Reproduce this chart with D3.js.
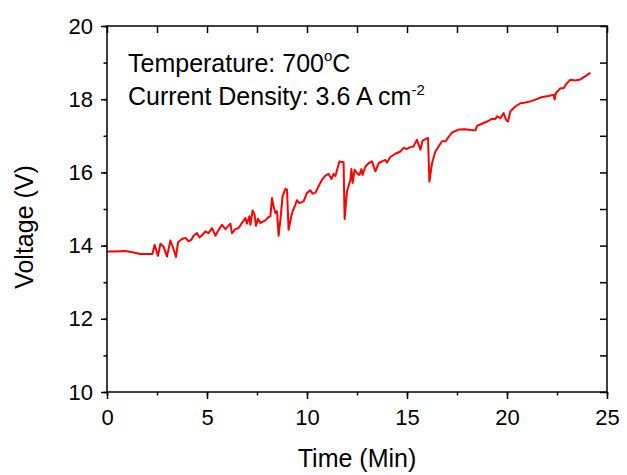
<!DOCTYPE html>
<html>
<head>
<meta charset="utf-8">
<script src="https://cdn.jsdelivr.net/npm/d3@7.9.0/dist/d3.min.js"></script>
<style>
  body { margin: 0; background: #fff; }
  svg { font-family: "Liberation Sans", Arial, sans-serif; }
</style>
</head>
<body>
<svg width="627" height="475"></svg>
<script>
// time (min)
const timeMin = [
  0.0, 0.4, 0.9, 1.27, 1.67, 2.27, 2.38, 2.55, 2.67, 2.83, 3.0, 3.17, 3.33, 3.45, 3.55, 3.75,
  3.92, 4.08, 4.22, 4.33, 4.5, 4.62, 4.75, 4.92, 5.08, 5.25, 5.42, 5.58, 5.75, 5.92, 6.17, 6.25,
  6.42, 6.58, 6.75, 6.92, 7.0, 7.12, 7.17, 7.28, 7.38, 7.45, 7.55, 7.67, 7.92, 8.08, 8.17, 8.25,
  8.33, 8.42, 8.5, 8.58, 8.67, 8.78, 8.92, 9.0, 9.08, 9.25, 9.42, 9.5, 9.62, 9.83, 10.0, 10.17,
  10.28, 10.42, 10.58, 10.75, 10.92, 11.08, 11.22, 11.33, 11.42, 11.52, 11.62, 11.83, 11.88, 12.0,
  12.17, 12.22, 12.28, 12.38, 12.5, 12.62, 12.72, 12.78, 12.92, 13.08, 13.25, 13.42, 13.58, 13.75,
  13.92, 14.0, 14.17, 14.42, 14.67, 14.83, 15.0, 15.17, 15.33, 15.5, 15.67, 15.78, 15.92, 16.05,
  16.12, 16.25, 16.42, 16.58, 16.75, 16.92, 17.08, 17.25, 17.58, 17.92, 18.17, 18.42, 18.5, 18.75,
  19.0, 19.25, 19.42, 19.5, 19.67, 19.83, 19.95, 20.05, 20.17, 20.42, 20.67, 20.92, 21.17, 21.42,
  21.75, 22.08, 22.33, 22.38, 22.45, 22.67, 22.83, 23.0, 23.17, 23.42, 23.67, 23.92, 24.17
];
// voltage (V)
const voltage = [
  13.84, 13.84, 13.85, 13.82, 13.77, 13.77, 14.02, 13.72, 14.05, 13.97, 13.70, 14.14, 13.90, 13.69, 14.09, 14.18,
  14.21, 14.12, 14.16, 14.27, 14.34, 14.22, 14.28, 14.39, 14.34, 14.48, 14.27, 14.43, 14.57, 14.45, 14.60, 14.34,
  14.45, 14.48, 14.62, 14.75, 14.60, 14.80, 14.57, 14.96, 14.84, 14.54, 14.73, 14.62, 14.69, 14.78, 14.80, 15.30,
  15.07, 14.89, 14.94, 14.27, 14.71, 15.35, 15.55, 15.53, 14.43, 14.89, 15.12, 15.24, 15.16, 15.21, 15.44, 15.51,
  15.42, 15.44, 15.62, 15.80, 15.91, 15.96, 15.82, 15.96, 15.90, 16.10, 16.30, 16.28, 14.73, 15.48,
  15.80, 16.09, 15.71, 16.07, 15.98, 15.93, 16.09, 15.93, 16.16, 16.25, 16.30, 16.03, 16.25, 16.30,
  16.34, 16.27, 16.42, 16.51, 16.57, 16.67, 16.64, 16.69, 16.71, 16.89, 16.62, 16.87, 16.91, 16.94,
  15.75, 16.25, 16.57, 16.71, 16.85, 16.85, 16.97, 17.09, 17.17, 17.18, 17.16, 17.15, 17.27, 17.33,
  17.39, 17.46, 17.46, 17.53, 17.48, 17.62, 17.44, 17.39, 17.67, 17.80, 17.89, 17.91, 17.94, 17.99,
  18.06, 18.09, 18.12, 17.99, 18.17, 18.30, 18.30, 18.44, 18.53, 18.51, 18.54, 18.63, 18.72
];
const xTicks = [0, 5, 10, 15, 20, 25];
const yTicks = [10, 12, 14, 16, 18, 20];
const xMinor = d3.range(0, 25.01, 2.5);
const yMinor = d3.range(10, 20.01, 1);

const margin = { top: 26, left: 107 };
const width = 500, height = 366;

const svg = d3.select('svg');
const g = svg.append('g').attr('transform', `translate(${margin.left},${margin.top})`);

const x = d3.scaleLinear().domain([0, 25]).range([0, width]);
const y = d3.scaleLinear().domain([10, 20]).range([height, 0]);

const data = timeMin.map((t, i) => ({ t, v: voltage[i] }));

const line = d3.line().x(d => x(d.t)).y(d => y(d.v));
g.append('path')
  .datum(data)
  .attr('fill', 'none')
  .attr('stroke', '#ff0000')
  .attr('stroke-width', 2)
  .attr('stroke-linejoin', 'round')
  .attr('d', line);

function styleAxis(sel) {
  sel.select('.domain').remove();
  sel.selectAll('line').attr('stroke', '#000').attr('stroke-width', 1.5);
  sel.selectAll('text').attr('fill', '#000').style('font-size', '22px');
}

// minor ticks first, then major
g.append('g').attr('transform', `translate(0,${height})`)
  .call(d3.axisBottom(x).tickValues(xMinor).tickSize(3.5).tickFormat(''))
  .call(styleAxis);
g.append('g').attr('transform', `translate(0,${height})`)
  .call(d3.axisBottom(x).tickValues(xTicks).tickSize(7).tickPadding(10).tickFormat(d3.format('d')))
  .call(styleAxis);

g.append('g')
  .call(d3.axisLeft(y).tickValues(yMinor).tickSize(3.5).tickFormat(''))
  .call(styleAxis);
g.append('g')
  .call(d3.axisLeft(y).tickValues(yTicks).tickSize(6).tickPadding(8).tickFormat(d3.format('d')))
  .call(styleAxis);

// top and right: ticks pointing inward
g.append('g')
  .call(d3.axisTop(x).tickValues(xMinor).tickSize(-7).tickFormat(''))
  .call(styleAxis);
g.append('g').attr('transform', `translate(${width},0)`)
  .call(d3.axisRight(y).tickValues(yMinor).tickSize(-7).tickFormat(''))
  .call(styleAxis);

// frame
g.append('rect')
  .attr('width', width).attr('height', height)
  .attr('fill', 'none').attr('stroke', '#000').attr('stroke-width', 1.5);

svg.append('text')
  .attr('x', margin.left + width / 2).attr('y', 467)
  .attr('text-anchor', 'middle').style('font-size', '25px')
  .text('Time (Min)');

svg.append('text')
  .attr('transform', 'translate(33,227) rotate(-90)')
  .attr('text-anchor', 'middle').style('font-size', '25px')
  .text('Voltage (V)');

const t1 = svg.append('text').attr('x', 128).attr('y', 72).style('font-size', '25px');
t1.append('tspan').text('Temperature: 700');
t1.append('tspan').attr('dy', -11).style('font-size', '15px').text('o');
t1.append('tspan').attr('dy', 11).text('C');

const t2 = svg.append('text').attr('x', 128).attr('y', 105).style('font-size', '25px');
t2.append('tspan').text('Current Density: 3.6 A cm');
t2.append('tspan').attr('dy', -10).style('font-size', '15px').text('-2');
</script>
</body>
</html>
